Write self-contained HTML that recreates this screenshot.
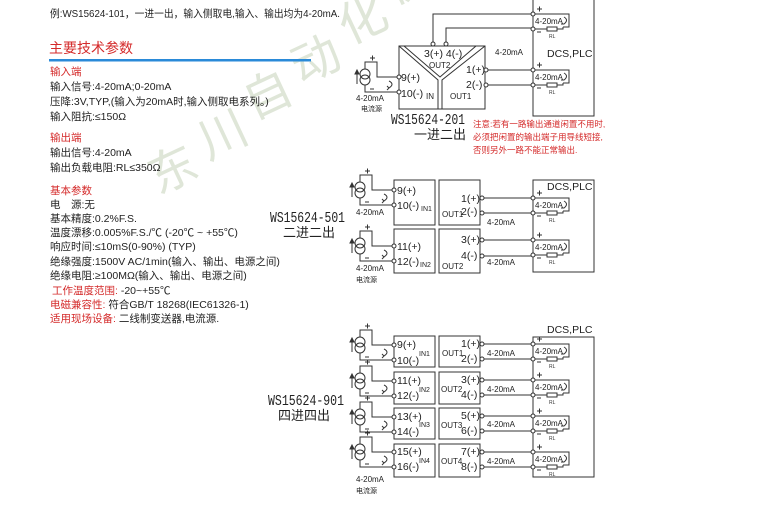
<!DOCTYPE html>
<html><head><meta charset="utf-8"><style>
html,body{margin:0;padding:0;background:#fff;}
svg{display:block;}
text{font-family:"Liberation Sans","Noto Sans CJK SC",sans-serif;}
.t{font-size:10.5px;fill:#222;}
.r{font-size:10.5px;fill:#d42a2a;}
.k{font-size:10.5px;fill:#222;}
.s{font-size:8px;fill:#222;}
.m{font-family:"Liberation Mono","Noto Sans CJK SC",monospace;font-size:15px;fill:#222;}
.w{font-family:"Noto Sans CJK SC",sans-serif;font-size:48px;fill:#dfe6d8;}
</style></head><body>
<svg width="763" height="507" viewBox="0 0 763 507" xmlns="http://www.w3.org/2000/svg">
<defs>
<g id="src" fill="none" stroke="#333" stroke-width="1">
<circle cx="0" cy="-3" r="5"/><circle cx="0" cy="3" r="5"/>
<path d="M-8,7 V-5"/><path d="M-10,-3 L-8,-7 L-6,-3 Z" fill="#333"/>
<path d="M0,-8 V-15 H12 V0 H32 M0,8 V15 H32"/>
<path d="M24,4 q6,3 0,7 M24,11 l-2,-2 M24,11 l-2,2"/>
<path d="M5,-19 h5 M7.5,-21.5 v5 M5,12 h4" />
<circle cx="34" cy="0" r="2" fill="#fff"/><circle cx="34" cy="15" r="2" fill="#fff"/>
</g>
<g id="load" fill="none" stroke="#333" stroke-width="1">
<path d="M0,0 H36 V13 H30 M0,15 H14 M24,15 H30 V13"/>
<rect x="14" y="13" width="10" height="4"/>
<path d="M31,3 q5,3 0,7 l-3,0"/>
<path d="M4,-5 h5 M6.5,-7.5 v5 M4,18 h4"/>
<circle cx="0" cy="0" r="2" fill="#fff"/><circle cx="0" cy="15" r="2" fill="#fff"/>
</g>
<g id="lt"><text x="2" y="10" class="s">4-20mA</text><text x="16" y="24" style="font-size:5px;fill:#333">RL</text></g>
</defs>

<!-- watermark -->
<text class="w" transform="translate(158,195) rotate(-25)">东</text>
<text class="w" transform="translate(208,160) rotate(-25)">川</text>
<text class="w" transform="translate(253,120) rotate(-25)">自</text>
<text class="w" transform="translate(301,85) rotate(-25)">动</text>
<text class="w" transform="translate(348,45) rotate(-25)">化</text>
<text class="w" transform="translate(393,5) rotate(-25)">仪</text>

<!-- left text -->
<text x="50" y="17" class="t" textLength="290" lengthAdjust="spacingAndGlyphs">例:WS15624-101，一进一出，输入侧取电,输入、输出均为4-20mA.</text>
<text x="49" y="53" style="font-size:14px;fill:#d42a2a">主要技术参数</text>
<rect x="49" y="59" width="262" height="2.5" fill="#2a8ad8"/>
<text x="50" y="75" class="r">输入端</text>
<text x="50" y="90" class="t">输入信号:4-20mA;0-20mA</text>
<text x="50" y="105" class="t">压降:3V,TYP,(输入为20mA时,输入侧取电系列。)</text>
<text x="50" y="120" class="t">输入阻抗:≤150Ω</text>
<text x="50" y="141" class="r">输出端</text>
<text x="50" y="156" class="t">输出信号:4-20mA</text>
<text x="50" y="171" class="t">输出负载电阻:RL≤350Ω</text>
<text x="50" y="194" class="r">基本参数</text>
<text x="50" y="208" class="t">电　源:无</text>
<text x="50" y="222" class="t">基本精度:0.2%F.S.</text>
<text x="50" y="236" class="t">温度漂移:0.005%F.S./℃ (-20℃ ~ +55℃)</text>
<text x="50" y="250" class="t">响应时间:≤10mS(0-90%) (TYP)</text>
<text x="50" y="265" class="t">绝缘强度:1500V AC/1min(输入、输出、电源之间)</text>
<text x="50" y="279" class="t">绝缘电阻:≥100MΩ(输入、输出、电源之间)</text>
<text x="52" y="294" class="r">工作温度范围: <tspan fill="#222">-20~+55℃</tspan></text>
<text x="50" y="308" class="r">电磁兼容性: <tspan fill="#222">符合GB/T 18268(IEC61326-1)</tspan></text>
<text x="50" y="322" class="r">适用现场设备: <tspan fill="#222">二线制变送器,电流源.</tspan></text>

<g fill="none" stroke="#333" stroke-width="1">
<!-- top module -->
<rect x="399" y="46" width="86" height="63"/>
<path d="M399,46 L438,80 V109 M404,46 L440,77 L476,46 M485,46 L442,80 V109"/>
<path d="M433,44 V14 H533 M446,44 V28 H533 M486,70 H533 M486,85 H533"/>
<path d="M533,0 V116 H594 V0"/>
<!-- middle -->
<rect x="394" y="180" width="41" height="45"/><rect x="394" y="229" width="41" height="44"/>
<rect x="439" y="180" width="41" height="45"/><rect x="439" y="229" width="41" height="44"/>
<rect x="533" y="180" width="61" height="92"/>
<path d="M483,198 H533 M483,213 H533 M483,240 H533 M483,256 H533"/>
<!-- bottom -->
<rect x="394" y="336" width="41" height="31"/><rect x="394" y="372" width="41" height="32"/>
<rect x="394" y="408" width="41" height="31"/><rect x="394" y="444" width="41" height="33"/>
<rect x="439" y="336" width="41" height="31"/><rect x="439" y="372" width="41" height="32"/>
<rect x="439" y="408" width="41" height="31"/><rect x="439" y="444" width="41" height="33"/>
<path d="M533,337 V477 H594 V337 Z"/>
<path d="M483,344 H533 M483,359 H533 M483,380 H533 M483,395 H533 M483,416 H533 M483,431 H533 M483,452 H533 M483,467 H533"/>
</g>
<g fill="#fff" stroke="#333">
<circle cx="433" cy="44" r="2"/><circle cx="446" cy="44" r="2"/><circle cx="486" cy="70" r="2"/><circle cx="486" cy="85" r="2"/>
<circle cx="482" cy="198" r="2"/><circle cx="482" cy="213" r="2"/><circle cx="482" cy="240" r="2"/><circle cx="482" cy="256" r="2"/>
<circle cx="482" cy="344" r="2"/><circle cx="482" cy="359" r="2"/><circle cx="482" cy="380" r="2"/><circle cx="482" cy="395" r="2"/>
<circle cx="482" cy="416" r="2"/><circle cx="482" cy="431" r="2"/><circle cx="482" cy="452" r="2"/><circle cx="482" cy="467" r="2"/>
</g>

<use href="#src" x="365" y="77"/>
<use href="#src" x="360" y="190"/><use href="#src" x="360" y="246"/>
<use href="#src" x="360" y="345"/><use href="#src" x="360" y="381"/><use href="#src" x="360" y="417"/><use href="#src" x="360" y="452"/>

<use href="#load" x="533" y="14"/><use href="#lt" x="533" y="14"/>
<use href="#load" x="533" y="70"/><use href="#lt" x="533" y="70"/>
<use href="#load" x="533" y="198"/><use href="#lt" x="533" y="198"/>
<use href="#load" x="533" y="240"/><use href="#lt" x="533" y="240"/>
<use href="#load" x="533" y="344"/><use href="#lt" x="533" y="344"/>
<use href="#load" x="533" y="380"/><use href="#lt" x="533" y="380"/>
<use href="#load" x="533" y="416"/><use href="#lt" x="533" y="416"/>
<use href="#load" x="533" y="452"/><use href="#lt" x="533" y="452"/>

<!-- top labels -->
<text x="424" y="57" class="k">3(+) 4(-)</text>
<text x="429" y="68" class="s">OUT2</text>
<text x="466" y="73" class="k">1(+)</text><text x="466" y="88" class="k">2(-)</text>
<text x="401" y="81" class="k">9(+)</text><text x="401" y="97" class="k">10(-)</text>
<text x="426" y="99" class="s">IN</text><text x="450" y="99" class="s">OUT1</text>
<text x="495" y="55" class="s">4-20mA</text>
<text x="547" y="57" class="k">DCS,PLC</text>
<text x="356" y="101" class="s">4-20mA</text><text x="361" y="111" class="s" style="font-size:7px">电流源</text>
<text x="391" y="124" class="m" textLength="74" lengthAdjust="spacingAndGlyphs">WS15624-201</text>
<text x="414" y="139" style="font-size:13px;fill:#222">一进二出</text>
<text x="473" y="127" class="s" style="fill:#d42a2a;font-size:8.5px">注意:若有一路输出通道闲置不用时,</text>
<text x="473" y="140" class="s" style="fill:#d42a2a;font-size:8.5px">必须把闲置的输出端子用导线短接,</text>
<text x="473" y="153" class="s" style="fill:#d42a2a;font-size:8.5px">否则另外一路不能正常输出.</text>

<!-- middle labels -->
<text x="270" y="222" class="m" textLength="75" lengthAdjust="spacingAndGlyphs">WS15624-501</text>
<text x="283" y="237" style="font-size:13px;fill:#222">二进二出</text>
<text x="397" y="194" class="k">9(+)</text><text x="397" y="209" class="k">10(-)</text>
<text x="397" y="250" class="k">11(+)</text><text x="397" y="265" class="k">12(-)</text>
<text x="421" y="211" class="s" style="font-size:7px">IN1</text><text x="420" y="267" class="s" style="font-size:7px">IN2</text>
<text x="442" y="217" class="s">OUT1</text><text x="442" y="269" class="s">OUT2</text>
<text x="461" y="202" class="k">1(+)</text><text x="461" y="215" class="k">2(-)</text>
<text x="461" y="243" class="k">3(+)</text><text x="461" y="259" class="k">4(-)</text>
<text x="487" y="225" class="s">4-20mA</text><text x="487" y="265" class="s">4-20mA</text>
<text x="547" y="190" class="k">DCS,PLC</text>
<text x="356" y="215" class="s">4-20mA</text><text x="356" y="271" class="s">4-20mA</text>
<text x="356" y="282" class="s" style="font-size:7px">电流源</text>

<!-- bottom labels -->
<text x="268" y="405" class="m" textLength="76" lengthAdjust="spacingAndGlyphs">WS15624-901</text>
<text x="278" y="420" style="font-size:13px;fill:#222">四进四出</text>
<text x="397" y="348" class="k">9(+)</text><text x="397" y="364" class="k">10(-)</text>
<text x="397" y="384" class="k">11(+)</text><text x="397" y="399" class="k">12(-)</text>
<text x="397" y="420" class="k">13(+)</text><text x="397" y="435" class="k">14(-)</text>
<text x="397" y="455" class="k">15(+)</text><text x="397" y="470" class="k">16(-)</text>
<text x="419" y="356" class="s" style="font-size:7px">IN1</text><text x="419" y="392" class="s" style="font-size:7px">IN2</text>
<text x="419" y="427" class="s" style="font-size:7px">IN3</text><text x="419" y="463" class="s" style="font-size:7px">IN4</text>
<text x="442" y="356" class="s">OUT1</text><text x="441" y="392" class="s">OUT2</text>
<text x="441" y="428" class="s">OUT3</text><text x="441" y="464" class="s">OUT4</text>
<text x="461" y="347" class="k">1(+)</text><text x="461" y="362" class="k">2(-)</text>
<text x="461" y="383" class="k">3(+)</text><text x="461" y="398" class="k">4(-)</text>
<text x="461" y="419" class="k">5(+)</text><text x="461" y="434" class="k">6(-)</text>
<text x="461" y="455" class="k">7(+)</text><text x="461" y="470" class="k">8(-)</text>
<text x="487" y="356" class="s">4-20mA</text><text x="487" y="392" class="s">4-20mA</text>
<text x="487" y="427" class="s">4-20mA</text><text x="487" y="464" class="s">4-20mA</text>
<text x="547" y="333" class="k">DCS,PLC</text>
<text x="356" y="482" class="s">4-20mA</text><text x="356" y="493" class="s" style="font-size:7px">电流源</text>
</svg>
</body></html>
